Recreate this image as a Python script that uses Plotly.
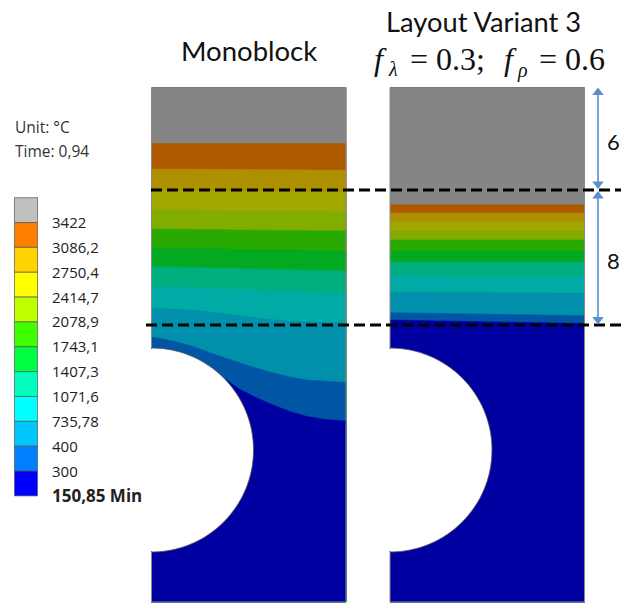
import plotly.graph_objects as go

# ---- data (pixel-like drawing coordinates) ----
fill_colors = ["#858585", "#b05a00", "#ae8f00", "#a3a800", "#80ad00", "#2aaa00",
               "#03a921", "#00ae7e", "#00aaa5", "#0090ab", "#0055a5", "#0000a0"]
scale_colors = ["#c0c0c0", "#ff8000", "#ffd200", "#ffff00", "#bfff00", "#40ff00",
                "#00ff40", "#00ffbf", "#00ffff", "#00c8ff", "#0080ff", "#0000ff"]
scale_labels = ["3422", "3086,2", "2750,4", "2414,7", "2078,9", "1743,1", "1407,3",
                "1071,6", "735,78", "400", "300", "150,85 Min"]

mono_x = [151.5, 173, 207, 240, 273, 307, 346]
mono_bounds = [
    [143.5, 143.5, 143.5, 143.5, 143.5, 143.5, 143.5],
    [169, 169, 169, 169.3, 169.6, 170, 170],
    [190, 190, 190.5, 191, 191.5, 192, 192],
    [210, 210, 210.3, 210.7, 211, 211.5, 211.7],
    [229, 229, 229.5, 230, 230.3, 230.7, 231],
    [247.7, 248, 248.5, 249, 249.7, 250.5, 251],
    [266.7, 267, 267.5, 268.5, 269.5, 270.5, 271],
    [286.7, 287, 288, 289.5, 291, 292.5, 293.7],
]
mono_x_fine = [151.5, 173, 190, 207, 215, 228, 240, 256, 273, 290, 307, 326, 346]
mono_curves = [
    [308, 308.8, 310, 311.5, 312.5, 314.5, 316, 318, 319.8, 321, 321.8, 322.3, 322.8],
    [337, 341, 345.5, 352, 354.5, 359, 363, 368, 373, 377, 380, 381.5, 382.5],
    [460, 460, 460, 400, 371.5, 381, 389.5, 397.5, 405, 411.5, 416.5, 419.5, 421],
]
var_x = [390, 487, 584.5]
var_bounds = [
    [204.7, 204.7, 204.7],
    [213, 213, 213],
    [222, 222, 222],
    [231, 231, 231],
    [240, 240, 240],
    [250.7, 250.7, 250.7],
    [262, 262, 262],
    [275.7, 275.9, 276],
    [292.3, 292.6, 293],
    [312.7, 314.2, 315.7],
    [320, 321.8, 323.5],
]
PANEL_BOTTOM = 602
PANEL_TOP = 87.5
mono_right = 346
var_right = 584.5
hole_y = 450
hole_r = 102
line_upper = 190
line_lower = 325

fig = go.Figure()

def panel(rows, right):
    left = rows[0][0][0]
    fig.add_trace(go.Scatter(x=[left, right, right, left], y=[PANEL_TOP, PANEL_TOP, PANEL_BOTTOM, PANEL_BOTTOM],
                             fill="toself", fillcolor=fill_colors[0], mode="lines",
                             line=dict(color="#7a7a7a", width=1), hoverinfo="skip"))
    for (xs, b), c in zip(rows, fill_colors[1:]):
        fig.add_trace(go.Scatter(x=xs + [right, left], y=b + [PANEL_BOTTOM, PANEL_BOTTOM],
                                 fill="toself", fillcolor=c, mode="lines",
                                 line=dict(color=c, width=0.5), hoverinfo="skip"))
    # outline on top
    for ox, oy in [([right, right], [PANEL_TOP, PANEL_BOTTOM]),
                   ([left, right], [PANEL_BOTTOM, PANEL_BOTTOM]),
                   ([left, left], [PANEL_TOP, PANEL_BOTTOM])]:
        fig.add_trace(go.Scatter(x=ox, y=oy, mode="lines", line=dict(color="#8a8a8a", width=1), hoverinfo="skip"))
    k = 0.5523 * hole_r
    path = (f"M {left},{hole_y-hole_r} C {left+k},{hole_y-hole_r} {left+hole_r},{hole_y-k} {left+hole_r},{hole_y} "
            f"C {left+hole_r},{hole_y+k} {left+k},{hole_y+hole_r} {left},{hole_y+hole_r} Z")
    fig.add_shape(type="path", path=path, fillcolor="white", line=dict(color="#555555", width=0.8), layer="above")
    fig.add_shape(type="line", x0=left - 0.5, x1=left - 0.5, y0=hole_y - hole_r + 1, y1=hole_y + hole_r - 1,
                  line=dict(color="white", width=3), layer="above")

panel([(mono_x, b) for b in mono_bounds] + [(mono_x_fine, b) for b in mono_curves], mono_right)
panel([(var_x, b) for b in var_bounds], var_right)

# colour scale
seg = 24.85
fig.add_trace(go.Bar(x=[26] * 12, y=[seg] * 12, base=[197.7 + i * seg for i in range(12)],
                     width=23, marker=dict(color=scale_colors, line=dict(color="#555555", width=0.7)),
                     hoverinfo="skip"))

# dashed guide lines
fig.add_trace(go.Scatter(x=[151, 621], y=[line_upper, line_upper], mode="lines",
                         line=dict(color="black", width=3, dash="11px,5px"), hoverinfo="skip"))
fig.add_trace(go.Scatter(x=[146, 622], y=[line_lower, line_lower], mode="lines",
                         line=dict(color="black", width=3, dash="11px,5px"), hoverinfo="skip"))

# dimension arrows
for y0, y1 in [(92.5, 184), (196, 319.5)]:
    fig.add_trace(go.Scatter(x=[598, 598], y=[y0, y1], mode="lines+markers",
                             line=dict(color="#5b8fc9", width=1.6),
                             marker=dict(symbol=["triangle-up", "triangle-down"], size=10, color="#5b8fc9"),
                             hoverinfo="skip"))

sans = "Open Sans"
serif = "Liberation Serif"
ann = []
ann.append(dict(x=12.5, y=127, text="Unit: °C", xanchor="left", font=dict(family=sans, size=15.5, color="#333")))
ann.append(dict(x=12.5, y=151, text="Time: 0,94", xanchor="left", font=dict(family=sans, size=15.5, color="#333")))
for i, t in enumerate(scale_labels):
    bold = "Min" in t
    ann.append(dict(x=50, y=222 + i * 24.85, text=t, xanchor="left",
                    font=dict(family=sans, size=17 if bold else 15, color="#222", weight="bold" if bold else "normal")))
ann.append(dict(x=248.5, y=50, text="Monoblock", font=dict(family="Lato", size=27.5, color="#111")))
ann.append(dict(x=483, y=21, text="Layout Variant 3", font=dict(family="Lato", size=27.3, color="#111")))
for x, y, t, size, style in [(380, 59, "f", 32, "italic"), (393, 69, "λ", 20, "italic"),
                             (447, 59, "= 0.3;", 32, "normal"), (510, 59, "f", 32, "italic"),
                             (522, 70, "ρ", 20, "italic"), (572, 59, "= 0.6", 32, "normal")]:
    ann.append(dict(x=x, y=y, text=t, font=dict(family=serif, size=size, color="#111", style=style)))
ann.append(dict(x=613, y=141, text="6", font=dict(family="Lato", size=22, color="#111")))
ann.append(dict(x=613, y=260, text="8", font=dict(family="Lato", size=22, color="#111")))
for a in ann:
    a.update(showarrow=False, xref="x", yref="y")

fig.update_layout(
    width=627, height=603, margin=dict(l=0, r=0, t=0, b=0), showlegend=False,
    paper_bgcolor="white", plot_bgcolor="white", annotations=ann, barmode="overlay",
    xaxis=dict(range=[0, 627], visible=False, fixedrange=True),
    yaxis=dict(range=[603, 0], visible=False, fixedrange=True),
)
fig.write_html("out.html", config=dict(displayModeBar=False),
               post_script="document.body.style.margin='0';document.body.style.overflow='hidden';")
